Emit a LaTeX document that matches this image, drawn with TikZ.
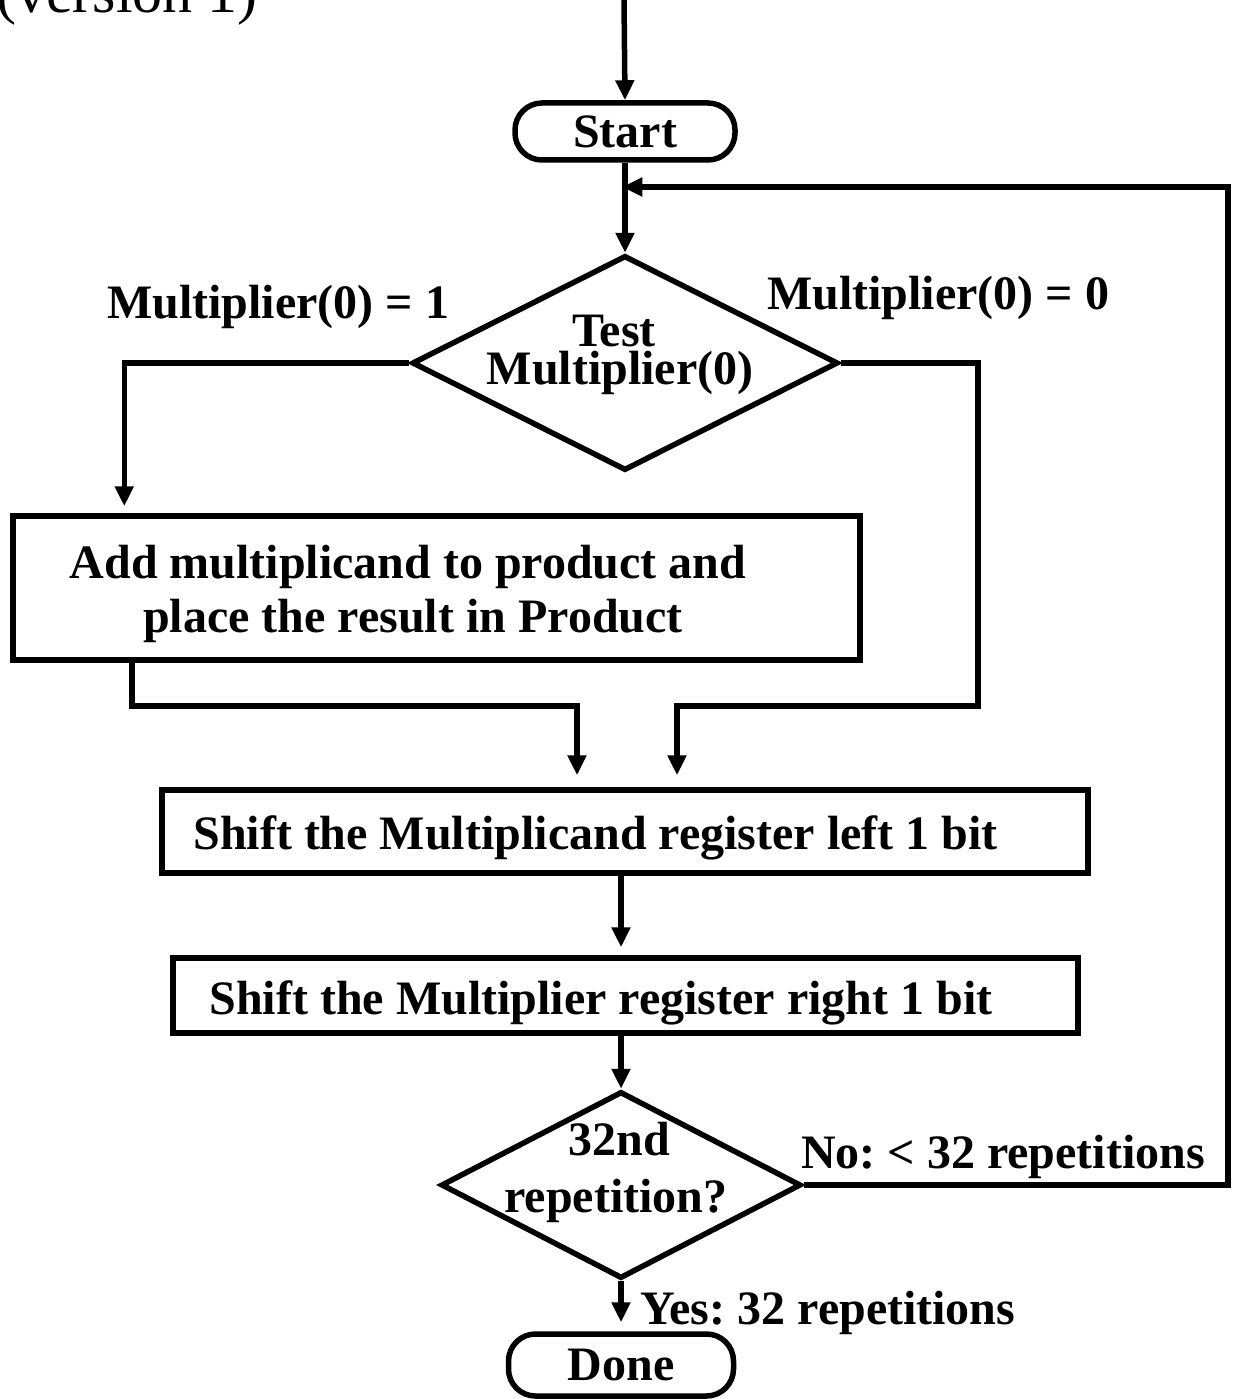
\documentclass[tikz,border=0pt]{standalone}
\usepackage{fontspec}
\setmainfont{Liberation Serif}
\usetikzlibrary{shapes.geometric,arrows.meta}

\begin{document}
\frenchspacing
\begin{tikzpicture}[x=1pt,y=-1pt,
  every node/.style={inner sep=0pt, font=\bfseries\fontsize{48}{36}\selectfont},
  flow/.style={draw, line width=5.5pt, line join=miter},
  arr/.style={-{Triangle[length=20pt,width=18pt]}},
  term/.style={draw, line width=5.5pt, rounded corners=27pt},
  stepbox/.style={draw, line width=5.5pt, rectangle},
  decision/.style={draw, line width=5.5pt, diamond},
  txt/.style={anchor=base}
]
\useasboundingbox (0,0) rectangle (1236,1399);

% heading, partly above the page edge
\node[anchor=base west, font=\fontsize{60}{60}\selectfont] (title) at (-4,13) {(version 1)};

% flowchart shapes
\coordinate (entry) at (624,0);
\node[term, minimum width=220pt, minimum height=57pt] (start) at (625,131.5) {Start};
\node[decision, minimum width=426pt, minimum height=215pt] (test) at (625,363) {};
\node[txt] (testA) at (614,346) {Test};
\node[txt] (testB) at (620,384) {Multiplier(0)};

\node[stepbox, minimum width=847pt, minimum height=144pt] (add) at (436.5,588) {};
\node[txt] (addA) at (408,578) {Add multiplicand to product and};
\node[txt] (addB) at (413,632) {place the result in Product};

\node[stepbox, minimum width=926pt, minimum height=83pt] (shl) at (625,831.5) {};
\node[txt] (shlT) at (595.5,849) {Shift the Multiplicand register left 1 bit};

\node[stepbox, minimum width=905pt, minimum height=75pt] (shr) at (625.5,995.5) {};
\node[txt] (shrT) at (601,1014) {Shift the Multiplier register right 1 bit};

\node[decision, minimum width=360pt, minimum height=187pt] (rep) at (621,1185) {};
\node[txt] (repA) at (619,1155) {32nd};
\node[txt] (repB) at (616,1212) {repetition?};

\node[term, minimum width=225pt, minimum height=62pt] (done) at (621,1365) {Done};

% branch labels
\node[txt] (one) at (278,318) {Multiplier(0) = 1};
\node[txt] (zero) at (938,309) {Multiplier(0) = 0};
\node[txt] (no) at (1003,1168) {No: < 32 repetitions};
\node[anchor=base west] (yes) at (640,1324) {Yes: 32 repetitions};

% connectors
\coordinate (rjoin) at (978,706);
\coordinate (ljoin) at (132,706);
\coordinate (loopR) at (1228,1185);
\coordinate (loopT) at (1228,187);

\draw[flow, arr] (entry) -- (start.north);
\draw[flow, arr] (start.south) -- (test.north);
\draw[flow, arr, shorten >=7pt] (test.west) -| ([xshift=114pt]add.north west);
\draw[flow, arr, shorten >=12pt] (test.east) -| (rjoin) -| ([xshift=52pt]shl.north);
\draw[flow, arr, shorten >=12pt] (add.south west -| ljoin) -- (ljoin) -| ([xshift=-48pt]shl.north);
\draw[flow, arr, shorten >=8pt] (shl.south -| rep.north) -- (shr.north -| rep.north);
\draw[flow, arr] (shr.south -| rep.north) -- (rep.north);
\draw[flow, arr, shorten >=9pt] (rep.south) -- (done.north);
\draw[flow, arr, shorten >=-2.75pt] (rep.east) -- (loopR) -- (loopT) -- (start.south |- loopT);
\end{tikzpicture}
\end{document}
